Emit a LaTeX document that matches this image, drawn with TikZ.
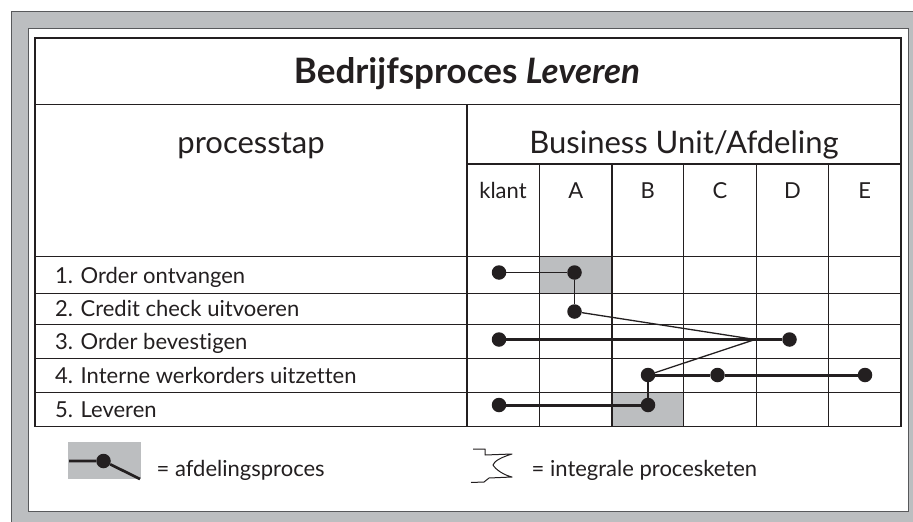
\documentclass[tikz,border=0pt]{standalone}
\usepackage{fontspec}
\setmainfont{Lato}[Ligatures=NoCommon]
\definecolor{ink}{HTML}{231F20}
\definecolor{panel}{HTML}{BCBEC0}
\definecolor{edge}{HTML}{58595B}
\begin{document}
\begin{tikzpicture}[x=1pt,y=-1pt,
  gridline/.style={draw=ink, line width=1.2pt},
  dot/.style={circle, fill=ink, inner sep=0pt, minimum size=14.5pt},
  thinlink/.style={draw=ink, line width=1.3pt},
  midlink/.style={draw=ink, line width=1.9pt},
  thicklink/.style={draw=ink, line width=3pt},
  rowlabel/.style={anchor=base west, inner sep=0pt, text=ink, font=\fontsize{22}{22}\selectfont},
  colhead/.style={anchor=base, inner sep=0pt, text=ink, font=\fontsize{22}{22}\selectfont},
  bighead/.style={anchor=base, inner sep=0pt, text=ink, font=\fontsize{31}{31}\selectfont},
  legendtext/.style={anchor=base west, inner sep=0pt, text=ink, font=\fontsize{22}{22}\selectfont}]

\useasboundingbox (0,0) rectangle (913,522);

% outer grey frame and white panel
\fill[panel] (11,11) rectangle (913,522);
\draw[edge, line width=1pt] (11,522) -- (11,11) -- (913,11);
\draw[edge, fill=white, line width=1pt] (28,28) rectangle (908,511);

% shaded department cells
\fill[panel] (539.5,256.8) rectangle (612,293.3);
\fill[panel] (612,392.3) rectangle (683.5,426.7);

% table grid
\draw[gridline] (35,38) rectangle (901,426.7);
\draw[gridline] (35,104.5) -- (901,104.5);
\draw[gridline] (467,104.5) -- (467,426.7);
\draw[gridline] (467,164) -- (901,164);
\foreach \x in {539.5,612,683.5,756.5,828.5}
  \draw[gridline] (\x,164) -- (\x,426.7);
\foreach \y in {256.8,293.3,324.7,358.5,392.3}
  \draw[gridline] (35,\y) -- (901,\y);

% headings
\node[bighead, font=\fontsize{35}{35}\selectfont\bfseries] (title) at (467,83.5) {Bedrijfsproces \textit{Leveren}};
\node[bighead] (stephead) at (251,153.3) {processtap};
\node[bighead] (buhead) at (684,153.3) {Business Unit/Afdeling};
\node[colhead] (hk) at (503,198) {klant};
\node[colhead] (ha) at (575.8,198) {A};
\node[colhead] (hb) at (647.8,198) {B};
\node[colhead] (hc) at (720,198) {C};
\node[colhead] (hd) at (792.5,198) {D};
\node[colhead] (he) at (864.8,198) {E};

% process steps
\node[rowlabel] (s1) at (55,283) {1. Order ontvangen};
\node[rowlabel] (s2) at (55,316.5) {2. Credit check uitvoeren};
\node[rowlabel] (s3) at (55,349) {3. Order bevestigen};
\node[rowlabel] (s4) at (55,383) {4. Interne werkorders uitzetten};
\node[rowlabel] (s5) at (55,417) {5. Leveren};

% department activities
\node[dot] (d1k) at (499,272.5) {};
\node[dot] (d1a) at (574.5,272.5) {};
\node[dot] (d2a) at (574.5,311.5) {};
\node[dot] (d3k) at (499,339.5) {};
\node[dot] (d3d) at (789.5,339.5) {};
\node[dot] (d4b) at (648,375) {};
\node[dot] (d4c) at (717.5,375) {};
\node[dot] (d4e) at (865,375) {};
\node[dot] (d5k) at (499,405) {};
\node[dot] (d5b) at (648,405) {};
\coordinate (turn) at (755,339.5);

% chain links
\draw[thinlink] (d1k) -- (d1a);
\draw[thinlink] (d1a) -- (d2a);
\draw[thinlink] (d2a) -- (turn) -- (d4b);
\draw[thicklink] (d3k) -- (d3d);
\draw[thicklink] (d4b) -- (d4c);
\draw[thicklink] (d4c) -- (d4e);
\draw[midlink] (d4b) -- (d5b);
\draw[thicklink] (d5k) -- (d5b);

% legend: department process
\node[fill=panel, minimum width=73.5pt, minimum height=36.5pt, inner sep=0pt] (legbox) at (104.5,460.7) {};
\node[dot] (legdot) at (103.5,461) {};
\coordinate (legin) at (69,461);
\coordinate (legout) at (140,479);
\draw[thicklink, line width=2.7pt] (legin) -- (legdot) -- (legout);
\node[legendtext] (legtext1) at (156.5,476) {= afdelingsproces};

% legend: integral process chain
\draw[ink, line width=1pt, line join=round]
  (473,449) -- (485,449) -- (485,455) -- (512,454)
  .. controls (502,457) and (494,461) .. (493,465)
  .. controls (496,470) and (504,475) .. (512,477)
  -- (489,478) -- (484,482) -- (471,482.5);
\node[legendtext] (legtext2) at (531.5,476) {= integrale procesketen};

\end{tikzpicture}
\end{document}
